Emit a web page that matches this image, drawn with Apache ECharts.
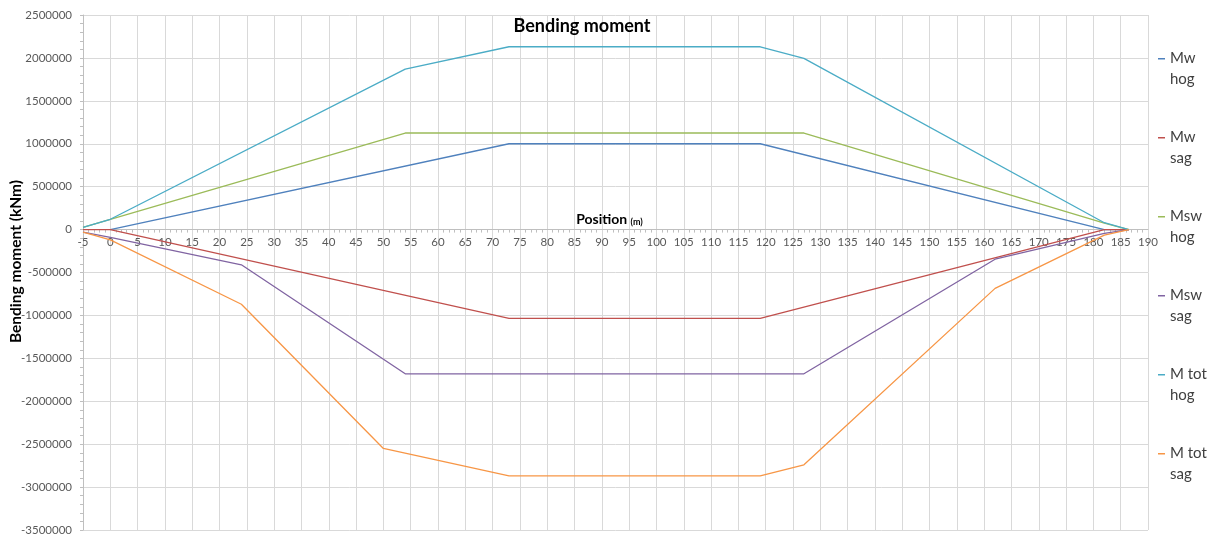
<!DOCTYPE html>
<html>
<head>
<meta charset="utf-8">
<script src="https://cdn.jsdelivr.net/npm/echarts@6/dist/echarts.min.js"></script>
<style>html,body{margin:0;padding:0;background:#fff;}#c{width:1215px;height:538px;}</style>
</head>
<body>
<div id="c"></div>
<script>
// Data
const seriesNames = ['Mw hog', 'Mw sag', 'Msw hog', 'Msw sag', 'M tot hog', 'M tot sag'];
const xTicks = { min: -5, max: 190, step: 5 };
const yTicks = { min: -3500000, max: 2500000, step: 500000 };

const mwHogX = [0, 73, 119, 182, 186.5];
const mwHogY = [0, 1000000, 1000000, 0, 0];

const mwSagX = [-5, 0, 73, 119, 182, 186.5];
const mwSagY = [0, 0, -1035000, -1035000, 0, 0];

const mswHogX = [-5, 0, 54, 127, 182, 186.5];
const mswHogY = [25000, 120000, 1125000, 1125000, 75000, 0];

const mswSagX = [-5, 0, 24, 54, 127, 162, 182, 186.5];
const mswSagY = [-30000, -90000, -410000, -1680000, -1680000, -345000, -45000, 0];

const mTotHogX = [-5, 0, 54, 73, 119, 127, 182, 186.5];
const mTotHogY = [25000, 120000, 1870000, 2130000, 2130000, 1995000, 80000, 0];

const mTotSagX = [-5, 0, 24, 50, 73, 119, 127, 162, 182, 186.5];
const mTotSagY = [-30000, -120000, -870000, -2550000, -2870000, -2870000, -2740000, -685000, -65000, 0];

const colors = ['#4F81BD', '#C0504D', '#9BBB59', '#8064A2', '#4BACC6', '#F79646'];

const xs = [mwHogX, mwSagX, mswHogX, mswSagX, mTotHogX, mTotSagX];
const ys = [mwHogY, mwSagY, mswHogY, mswSagY, mTotHogY, mTotSagY];

const FONT = 'Lato, "Open Sans", sans-serif';

const GRID = { left: 83, right: 67, top: 15, bottom: 8 };
const plotH = 538 - GRID.top - GRID.bottom;
// offset that moves the bottom x axis up to the y = 0 line
const zeroOffset = -plotH * (0 - yTicks.min) / (yTicks.max - yTicks.min);

const chart = echarts.init(document.getElementById('c'), null, { renderer: 'canvas' });
chart.setOption({
  backgroundColor: '#ffffff',
  animation: false,
  color: colors,
  title: {
    text: 'Bending moment',
    left: 577,
    top: 12,
    textAlign: 'center',
    textStyle: { fontFamily: FONT, fontSize: 18, fontWeight: 'bold', color: '#000' }
  },
  grid: { left: GRID.left, right: GRID.right, top: GRID.top, bottom: GRID.bottom, containLabel: false, outerBoundsMode: 'none' },
  legend: {
    orient: 'vertical',
    left: 1153,
    top: 43,
    itemGap: 37,
    itemWidth: 7,
    itemHeight: 22,
    symbolKeepAspect: false,
    icon: 'path://M0,0H8V1.5H0Z M0,21.99H0.01V22H0Z',
    data: seriesNames,
    formatter: function (n) { const i = n.lastIndexOf(' '); return n.slice(0, i) + '\n' + n.slice(i + 1); },
    textStyle: { fontFamily: FONT, fontSize: 15, color: '#404040', lineHeight: 21 }
  },
  xAxis: {
    type: 'value',
    min: xTicks.min,
    max: xTicks.max,
    interval: xTicks.step,
    offset: zeroOffset,
    name: '{b|Position} {s|(m)}',
    nameLocation: 'middle',
    nameGap: -19,
    nameMoveOverlap: false,
    nameTextStyle: {
      padding: [0, 12, 0, 0],
      rich: {
        b: { fontFamily: FONT, fontSize: 14, fontWeight: 'bold', color: '#000', verticalAlign: 'bottom', lineHeight: 16 },
        s: { fontFamily: FONT, fontSize: 9, fontWeight: 'bold', color: '#000', verticalAlign: 'bottom', lineHeight: 11 }
      }
    },
    axisLine: { show: true, onZero: false, lineStyle: { color: '#bfbfbf', width: 1 } },
    axisTick: { show: false },
    minorTick: { show: true, splitNumber: 5, length: 3, lineStyle: { color: '#bfbfbf' } },
    axisLabel: { fontFamily: FONT, fontSize: 11.5, color: '#595959', margin: 7 },
    splitLine: { show: true, lineStyle: { color: '#d9d9d9', width: 1 } }
  },
  yAxis: {
    type: 'value',
    min: yTicks.min,
    max: yTicks.max,
    interval: yTicks.step,
    name: 'Bending moment (kNm)',
    nameLocation: 'middle',
    nameGap: 59,
    nameMoveOverlap: false,
    nameTextStyle: { fontFamily: FONT, fontSize: 15.5, fontWeight: 'bold', color: '#000', padding: [0, 0, 0, 22] },
    axisLine: { show: true, onZero: false, lineStyle: { color: '#bfbfbf', width: 1 } },
    axisTick: { show: true, length: 3, lineStyle: { color: '#bfbfbf' } },
    minorTick: { show: true, splitNumber: 5, length: 3, lineStyle: { color: '#bfbfbf' } },
    axisLabel: { fontFamily: FONT, fontSize: 11.5, color: '#595959', margin: 11, formatter: function (v) { return String(v); } },
    splitLine: { show: true, lineStyle: { color: '#d9d9d9', width: 1 } }
  },
  series: seriesNames.map(function (name, i) {
    return {
      name: name,
      type: 'line',
      showSymbol: false,
      symbol: 'none',
      lineStyle: { width: 1.3, color: colors[i] },
      data: xs[i].map(function (x, j) { return [x, ys[i][j]]; })
    };
  })
});
</script>
</body>
</html>
